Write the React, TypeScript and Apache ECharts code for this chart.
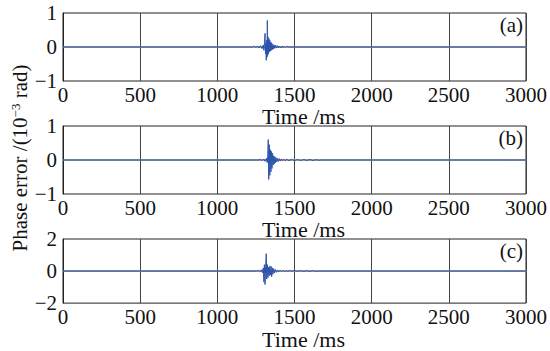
import React, { useEffect, useRef } from "react";
import * as echarts from "echarts";

const xTicks = [0, 500, 1000, 1500, 2000, 2500, 3000];
const panelLabels = ["(a)", "(b)", "(c)"];
const yRanges = [1, 1, 2];

const timesA = [0, 1230, 1240, 1250, 1260, 1270, 1280, 1290, 1298, 1302, 1306, 1309, 1312, 1315, 1317, 1320, 1322, 1324, 1326, 1328, 1331, 1334, 1337, 1340, 1343, 1346, 1349, 1352, 1356, 1360, 1364, 1368, 1373, 1378, 1384, 1390, 1396, 1402, 1410, 1418, 1426, 1434, 1442, 1450, 1460, 3000];
const valuesA = [0, 0, 0.02, -0.02, 0.03, -0.03, 0.04, -0.05, 0.06, -0.1, 0.15, 0.4, -0.2, 0.1, -0.39, 0.2, -0.3, 0.78, -0.25, 0.3, -0.2, 0.25, -0.15, 0.2, -0.12, 0.15, -0.1, 0.12, -0.08, 0.08, -0.06, 0.06, -0.04, 0.05, -0.03, 0.04, -0.03, 0.03, -0.03, 0.03, -0.02, 0.02, -0.02, 0.02, 0, 0];

const timesB = [0, 1270, 1280, 1290, 1300, 1310, 1318, 1324, 1327, 1330, 1333, 1337, 1340, 1344, 1347, 1351, 1354, 1358, 1361, 1365, 1368, 1372, 1376, 1380, 1385, 1390, 1396, 1402, 1408, 1415, 1422, 1430, 1440, 1450, 1465, 1480, 1500, 1520, 1540, 1560, 1580, 1600, 1620, 1640, 1660, 1670, 3000];
const valuesB = [0, 0, 0.02, -0.02, 0.03, -0.04, 0.05, -0.08, 0.15, 0.6, -0.57, 0.45, -0.45, 0.3, -0.35, 0.25, -0.25, 0.2, -0.15, 0.12, -0.12, 0.1, -0.08, 0.07, -0.06, 0.05, -0.04, 0.04, -0.03, 0.03, -0.02, 0.02, -0.02, 0.02, -0.02, 0.02, -0.02, 0.015, -0.015, 0.015, -0.015, 0.015, -0.015, 0.01, -0.01, 0, 0];

const timesC = [0, 1255, 1265, 1275, 1285, 1292, 1298, 1302, 1305, 1309, 1313, 1317, 1320, 1324, 1328, 1332, 1336, 1340, 1344, 1348, 1352, 1356, 1360, 1365, 1370, 1376, 1382, 1390, 1398, 1406, 1415, 1425, 1435, 1445, 1455, 1470, 1485, 1500, 1520, 1540, 1560, 1580, 1600, 1620, 1645, 1655, 3000];
const valuesC = [0, 0, 0.04, -0.05, 0.08, -0.1, 0.2, -0.68, 0.4, -0.84, 0.3, 1.08, -0.5, 0.4, -0.4, 0.25, -0.3, 0.3, -0.25, 0.3, -0.35, 0.2, -0.2, 0.15, -0.12, 0.1, -0.08, 0.06, -0.05, 0.05, -0.04, 0.04, -0.03, 0.03, -0.03, 0.03, -0.02, 0.03, -0.02, 0.02, -0.02, 0.02, -0.02, 0.02, -0.02, 0, 0];

const seriesTimes = [timesA, timesB, timesC];
const seriesValues = [valuesA, valuesB, valuesC];

const FONT = "Liberation Serif";
const LINE_COLOR = "#2d52aa";

export default function App() {
  const ref = useRef<HTMLDivElement>(null);
  useEffect(() => {
    if (!ref.current) return;
    const chart = echarts.init(ref.current, undefined, { renderer: "svg" });
    const left = 63;
    const width = 463;
    const tops = [13, 126, 239];
    const heights = [68, 68, 69];
    const grids = tops.map((t, i) => ({
      left,
      top: t,
      width,
      height: heights[i],
      show: true,
      borderColor: "#222",
      borderWidth: 1,
      backgroundColor: "transparent",
    }));
    const xAxes = tops.map((_, i) => ({
      type: "value" as const,
      gridIndex: i,
      min: xTicks[0],
      max: xTicks[xTicks.length - 1],
      interval: xTicks[1] - xTicks[0],
      name: "Time /ms",
      nameLocation: "middle" as const,
      nameGap: 20,
      nameTextStyle: { fontFamily: FONT, fontSize: 22, color: "#111", padding: [0, 0, 0, 18] },
      axisLine: { show: true, lineStyle: { color: "#888", width: 1.5 } },
      axisTick: { show: false },
      axisLabel: {
        fontFamily: FONT,
        fontSize: 21,
        color: "#111",
        margin: 3,
        formatter: (v: number) => String(v),
      },
      splitLine: { show: true, lineStyle: { color: "#444", width: 1 } },
    }));
    const yAxes = tops.map((_, i) => ({
      type: "value" as const,
      gridIndex: i,
      min: -yRanges[i],
      max: yRanges[i],
      interval: yRanges[i],
      axisLine: { show: true, lineStyle: { color: "#222", width: 1 } },
      axisTick: { show: false },
      axisLabel: {
        fontFamily: FONT,
        fontSize: 21,
        color: "#111",
        margin: 6,
        formatter: (v: number) => (v < 0 ? "\u2212" + Math.abs(v) : String(v)),
      },
      splitLine: { show: false },
    }));
    const series = tops.map((_, i) => ({
      type: "line" as const,
      xAxisIndex: i,
      yAxisIndex: i,
      data: seriesTimes[i].map((t, k) => [t, seriesValues[i][k]]),
      showSymbol: false,
      symbol: "none",
      lineStyle: { color: LINE_COLOR, width: 1 },
      z: 3,
    }));
    const graphic: any[] = panelLabels.map((lab, i) => ({
      type: "text",
      right: 550 - (left + width) + 3,
      top: tops[i] + 1,
      style: { text: lab, fontFamily: FONT, fontSize: 21, fill: "#111" },
      z: 10,
    }));
    graphic.push({
      type: "text",
      x: 20,
      y: 158,
      rotation: Math.PI / 2,
      style: {
        text: "Phase error /(10{sup|\u22123} rad)",
        fontFamily: FONT,
        fontSize: 21,
        fill: "#111",
        align: "center",
        verticalAlign: "middle",
        rich: {
          sup: { fontSize: 13, fontFamily: FONT, verticalAlign: "bottom", padding: [0, 0, 9, 0] },
        },
      },
    });
    chart.setOption({
      animation: false,
      backgroundColor: "#fff",
      textStyle: { fontFamily: FONT },
      grid: grids,
      xAxis: xAxes,
      yAxis: yAxes,
      series,
      graphic,
    });
    return () => chart.dispose();
  }, []);
  return <div ref={ref} style={{ position: "fixed", left: 0, top: 0, width: 550, height: 351 }} />;
}
